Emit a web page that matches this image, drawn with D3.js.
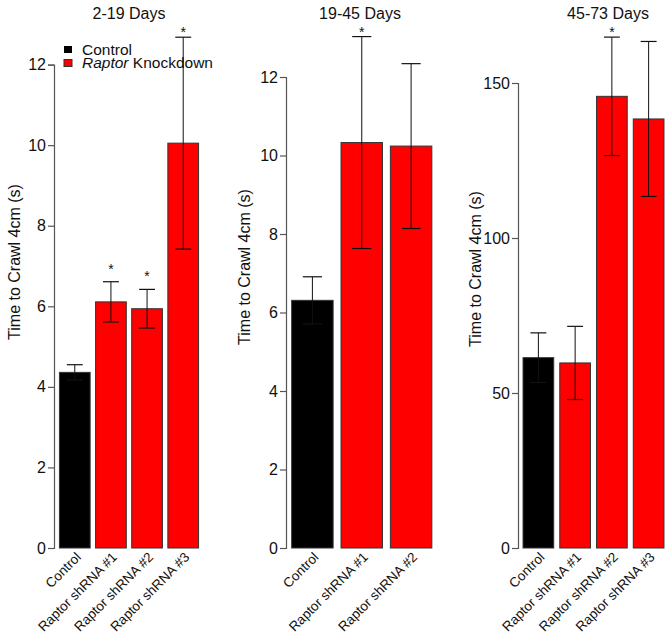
<!DOCTYPE html>
<html><head><meta charset="utf-8">
<script src="https://cdn.jsdelivr.net/npm/d3@7"></script>
<style>
body{margin:0;background:#fff;}
svg text{font-family:"Liberation Sans",Arial,sans-serif;fill:#111;}
</style></head>
<body><svg id="c" width="666" height="640"></svg>
<script>
// ---- data ----
const panelTitles = ["2-19 Days", "19-45 Days", "45-73 Days"];
const cats1 = ["Control", "Raptor shRNA #1", "Raptor shRNA #2", "Raptor shRNA #3"];
const means1 = [4.36, 6.11, 5.94, 10.05];
const errs1 = [0.19, 0.50, 0.48, 2.63];
const sig1 = [false, true, true, true];
const ticks1 = [0, 2, 4, 6, 8, 10, 12];

const cats2 = ["Control", "Raptor shRNA #1", "Raptor shRNA #2"];
const means2 = [6.31, 10.33, 10.24];
const errs2 = [0.60, 2.70, 2.10];
const sig2 = [false, true, false];
const ticks2 = [0, 2, 4, 6, 8, 10, 12];

const cats3 = ["Control", "Raptor shRNA #1", "Raptor shRNA #2", "Raptor shRNA #3"];
const means3 = [61.4, 59.7, 145.7, 138.4];
const errs3 = [8.0, 11.8, 19.1, 25.0];
const sig3 = [false, false, true, false];
const ticks3 = [0, 50, 100, 150];

const yLabel = "Time to Crawl 4cm (s)";
const legendLabels = ["Control", "Knockdown"];

// ---- layout ----
const svg = d3.select("#c");
const baseY = 548;
const panels = [
  {cats: cats1, means: means1, errs: errs1, sig: sig1, ticks: ticks1, title: panelTitles[0],
   xr: [54, 204], pi: 0.15, po: 0.15, yTop: 64.6, titleX: 129, labX: 20, labY: 262},
  {cats: cats2, means: means2, errs: errs2, sig: sig2, ticks: ticks2, title: panelTitles[1],
   xr: [286, 437.5], pi: 0.16, po: 0.115, yTop: 77, titleX: 360, labX: 250, labY: 267},
  {cats: cats3, means: means3, errs: errs3, sig: sig3, ticks: ticks3, title: panelTitles[2],
   xr: [518, 669], pi: 0.165, po: 0.137, yTop: 83, titleX: 608, labX: 481, labY: 269}
];

panels.forEach((p) => {
  const x = d3.scaleBand().domain(p.cats).range(p.xr).paddingInner(p.pi).paddingOuter(p.po);
  const y = d3.scaleLinear().domain([0, d3.max(p.ticks)]).range([baseY, p.yTop]);
  const g = svg.append("g");

  // y axis
  const ax = g.append("g").attr("transform", `translate(${p.xr[0]},0)`)
    .call(d3.axisLeft(y).tickValues(p.ticks).tickSize(6).tickSizeOuter(6).tickPadding(2));
  ax.select(".domain").attr("stroke", "#555").attr("stroke-width", 1.2);
  ax.selectAll(".tick line").attr("stroke", "#555").attr("stroke-width", 1.2);
  ax.selectAll(".tick text").attr("font-size", 16).attr("fill", "#111")
    .style("font-family", '"Liberation Sans",Arial,sans-serif');

  // bars
  p.cats.forEach((c, i) => {
    const bw = x.bandwidth();
    const cx = x(c) + bw / 2;
    g.append("rect")
      .attr("x", x(c)).attr("y", y(p.means[i]))
      .attr("width", bw).attr("height", y(0) - y(p.means[i]))
      .attr("fill", i === 0 ? "#000" : "#ff0000")
      .attr("stroke", "#333").attr("stroke-width", 1);
    const hi = y(p.means[i] + p.errs[i]);
    const lo = y(p.means[i] - p.errs[i]);
    const cw = Math.min(8 + (bw - 31) * 0.15, 10);
    g.append("line").attr("x1", cx).attr("x2", cx).attr("y1", lo).attr("y2", hi)
      .attr("stroke", "#111").attr("stroke-width", 1);
    g.append("line").attr("x1", cx - cw).attr("x2", cx + cw).attr("y1", hi).attr("y2", hi)
      .attr("stroke", "#111").attr("stroke-width", 1.2);
    g.append("line").attr("x1", cx - cw).attr("x2", cx + cw).attr("y1", lo).attr("y2", lo)
      .attr("stroke", "#111").attr("stroke-width", 1.2);
    if (p.sig[i]) {
      const sy = Math.max(hi - 17, 28);
      g.append("text").attr("x", cx).attr("y", sy + 9).attr("text-anchor", "middle")
        .attr("font-size", 14).text("*");
    }
    // x label
    g.append("text")
      .attr("transform", `translate(${cx + 7},${baseY + 10}) rotate(-45)`)
      .attr("text-anchor", "end").attr("font-size", 13.5).text(c);
  });

  // title
  g.append("text").attr("x", p.titleX).attr("y", 19).attr("text-anchor", "middle")
    .attr("font-size", 16).text(p.title);
  // y label
  g.append("text").attr("transform", `translate(${p.labX},${p.labY}) rotate(-90)`)
    .attr("text-anchor", "middle").attr("font-size", 16).text(yLabel);
});

// legend
const lg = svg.append("g");
lg.append("rect").attr("x", 64).attr("y", 46).attr("width", 8).attr("height", 7).attr("fill", "#000");
lg.append("text").attr("x", 82).attr("y", 54.5).attr("font-size", 15.5).text(legendLabels[0]);
lg.append("rect").attr("x", 64).attr("y", 59.5).attr("width", 8).attr("height", 7)
  .attr("fill", "#ff0000").attr("stroke", "#333").attr("stroke-width", 1);
const t2 = lg.append("text").attr("x", 82).attr("y", 68).attr("font-size", 15.5);
t2.append("tspan").attr("font-style", "italic").text("Raptor");
t2.append("tspan").text(" " + legendLabels[1]);
</script></body></html>
